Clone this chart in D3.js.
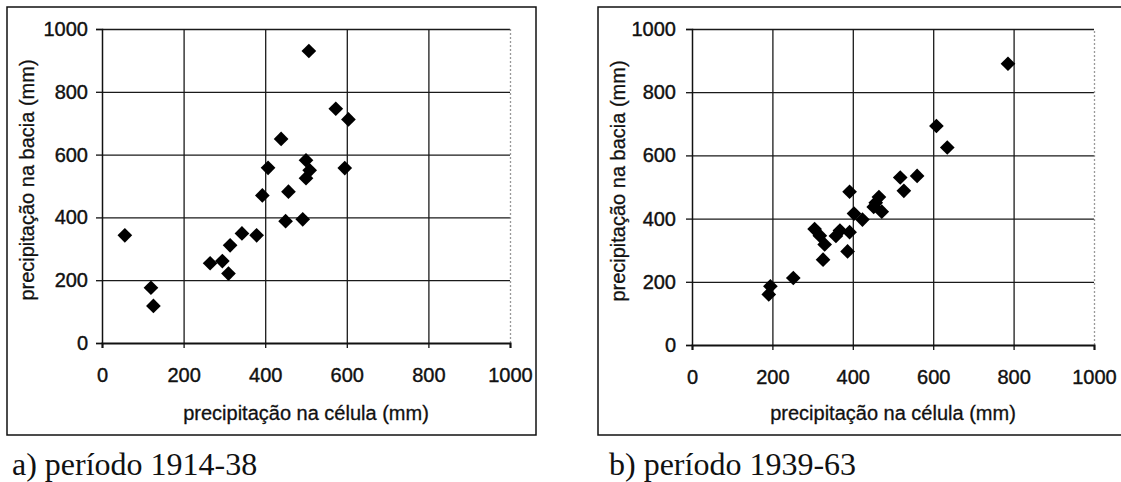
<!DOCTYPE html>
<html>
<head>
<meta charset="utf-8">
<script src="https://cdn.jsdelivr.net/npm/d3@7"></script>
<style>
  body { margin: 0; background: #fff; }
  svg { display: block; }
  .tick text { font-family: Arial, "Liberation Sans", sans-serif; font-size: 20px; fill: #111; stroke: #111; stroke-width: 0.4px; }
  .title { font-family: Arial, "Liberation Sans", sans-serif; font-size: 20px; fill: #111; stroke: #111; stroke-width: 0.3px; }
  .caption { font-family: "Times New Roman", "Liberation Serif", serif; font-size: 32px; fill: #111; }
</style>
</head>
<body>
<div id="chart"></div>
<script>
// tick values shared by both panels
var ticks = [0, 200, 400, 600, 800, 1000];

// a) 1914-38 : cell precipitation (x) vs basin precipitation (y), mm
var celulaA = [56, 120, 126, 265, 295, 310, 314, 343, 379, 393, 407, 439, 450, 457, 492, 500, 500, 509, 507, 573, 595, 604];
var baciaA  = [343, 176, 118, 254, 261, 221, 311, 349, 343, 470, 558, 650, 388, 482, 394, 582, 525, 550, 930, 746, 557, 712];

// b) 1939-63
var celulaB = [786, 608, 635, 560, 518, 527, 392, 465, 457, 452, 472, 403, 424, 305, 318, 330, 326, 368, 358, 392, 387, 252, 195, 191];
var baciaB  = [890, 693, 625, 535, 530, 488, 485, 468, 450, 437, 422, 416, 397, 367, 346, 318, 270, 362, 345, 357, 296, 212, 186, 160];

var xTitle = "precipitação na célula (mm)",
    yTitle = "precipitação na bacia (mm)";

var width = 1121,
    height = 482;

var svg = d3.select("#chart").append("svg")
    .attr("width", width)
    .attr("height", height);

drawPanel({
  frame: {x: 7, y: 7, w: 529, h: 428},
  plot: {left: 102, top: 29, right: 510, bottom: 343},
  yPad: 8, yTitleX: 27,
  xs: celulaA, ys: baciaA,
  caption: "a) período 1914-38", captionX: 12
});

drawPanel({
  frame: {x: 598, y: 7, w: 540, h: 428},
  plot: {left: 692, top: 29, right: 1094, bottom: 345},
  yPad: 10, yTitleX: 618,
  xs: celulaB, ys: baciaB,
  caption: "b) período 1939-63", captionX: 609
});

function drawPanel(p) {
  var f = p.frame, pl = p.plot,
      w = pl.right - pl.left,
      h = pl.bottom - pl.top;

  svg.append("rect")
      .attr("x", f.x).attr("y", f.y)
      .attr("width", f.w).attr("height", f.h)
      .attr("fill", "none")
      .attr("stroke", "#111")
      .attr("stroke-width", 1.5);

  var x = d3.scaleLinear().domain([0, 1000]).range([0, w]),
      y = d3.scaleLinear().domain([0, 1000]).range([h, 0]);

  var g = svg.append("g")
      .attr("transform", "translate(" + pl.left + "," + pl.top + ")");

  // horizontal grid
  g.append("g")
      .call(d3.axisLeft(y).tickValues(ticks.slice(1)).tickSize(-w).tickFormat(""))
      .call(function(s) { s.select(".domain").remove(); })
      .selectAll("line")
        .attr("stroke", "#1a1a1a")
        .attr("stroke-width", 1.3);

  // vertical grid
  g.append("g")
      .attr("transform", "translate(0," + h + ")")
      .call(d3.axisBottom(x).tickValues(ticks.slice(1)).tickSize(-h).tickFormat(""))
      .call(function(s) { s.select(".domain").remove(); })
      .selectAll("line")
        .attr("stroke", function(d) { return d === 1000 ? "#999" : "#1a1a1a"; })
        .attr("stroke-dasharray", function(d) { return d === 1000 ? "2,2" : null; })
        .attr("stroke-width", 1.3);

  // axes
  var xa = g.append("g")
      .attr("transform", "translate(0," + h + ")")
      .call(d3.axisBottom(x).tickValues(ticks).tickFormat(d3.format("d")).tickSize(5).tickPadding(20));
  xa.select(".domain").attr("stroke", "#111").attr("stroke-width", 2);
  xa.selectAll(".tick line").attr("stroke", "#111").attr("stroke-width", 1.3);

  var ya = g.append("g")
      .call(d3.axisLeft(y).tickValues(ticks).tickFormat(d3.format("d")).tickSize(6).tickPadding(p.yPad));
  ya.select(".domain").attr("stroke", "#111").attr("stroke-width", 1.5);
  ya.selectAll(".tick line").attr("stroke", "#111").attr("stroke-width", 1.3);
  svg.selectAll(".tick text").attr("font-family", null).attr("font-size", null);

  // points
  var pts = d3.zip(p.xs, p.ys);
  g.selectAll(".pt")
    .data(pts).enter()
    .append("path")
      .attr("class", "pt")
      .attr("d", d3.symbol(d3.symbolSquare).size(108))
      .attr("transform", function(d) { return "translate(" + x(d[0]) + "," + y(d[1]) + ") rotate(45)"; })
      .attr("fill", "#000");

  // titles
  svg.append("text")
      .attr("class", "title")
      .attr("x", pl.left + w / 2)
      .attr("y", 420)
      .attr("text-anchor", "middle")
      .text(xTitle);

  svg.append("text")
      .attr("class", "title")
      .attr("transform", "translate(" + p.yTitleX + "," + (pl.top + h / 2 - 6) + ") rotate(-90)")
      .attr("text-anchor", "middle")
      .attr("dominant-baseline", "central")
      .text(yTitle);

  svg.append("text")
      .attr("class", "caption")
      .attr("x", p.captionX)
      .attr("y", 475)
      .text(p.caption);
}
</script>
</body>
</html>
